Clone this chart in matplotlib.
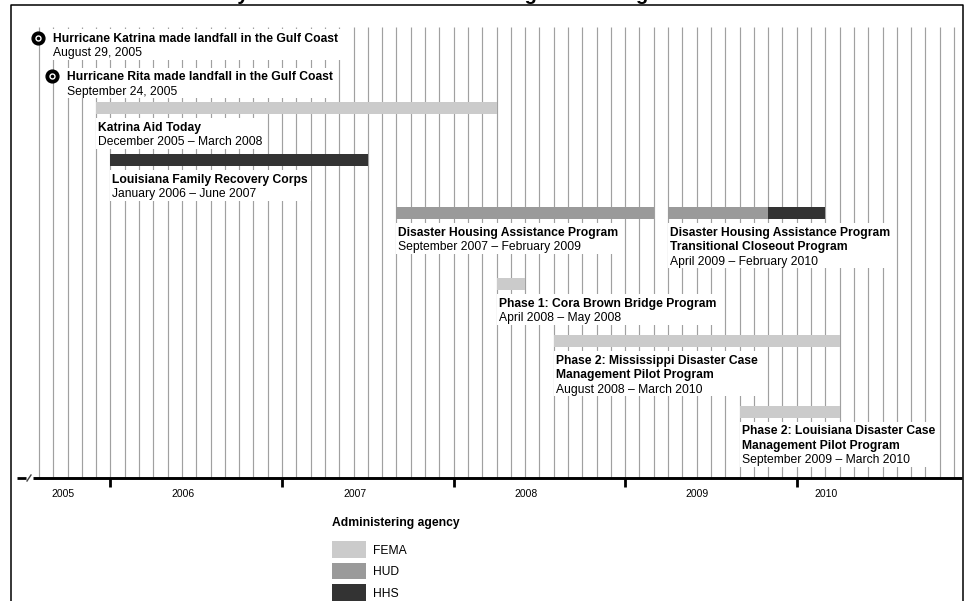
import matplotlib
matplotlib.use('Agg')
import matplotlib.pyplot as plt
from matplotlib.patches import Rectangle

plt.rcParams['font.family'] = ['Liberation Sans', 'DejaVu Sans']

# ---- data ----
title = 'Timeline of Federally Funded Disaster Case Management Programs'

event_names = ['Hurricane Katrina made landfall in the Gulf Coast',
               'Hurricane Rita made landfall in the Gulf Coast']
event_dates = ['August 29, 2005', 'September 24, 2005']
event_month = ['2005-08', '2005-09']

prog_names = [
    'Katrina Aid Today',
    'Louisiana Family Recovery Corps',
    'Disaster Housing Assistance Program',
    'Disaster Housing Assistance Program\nTransitional Closeout Program',
    'Phase 1: Cora Brown Bridge Program',
    'Phase 2: Mississippi Disaster Case\nManagement Pilot Program',
    'Phase 2: Louisiana Disaster Case\nManagement Pilot Program',
]
prog_start = ['2005-12', '2006-01', '2007-09', '2009-04', '2008-04', '2008-08', '2009-09']
prog_end = ['2008-03', '2007-06', '2009-02', '2010-02', '2008-05', '2010-03', '2010-03']

# bar pieces (a program can change agency part way)
seg_prog = [0, 1, 2, 3, 3, 4, 5, 6]
seg_start = ['2005-12', '2006-01', '2007-09', '2009-04', '2009-11', '2008-04', '2008-08', '2009-09']
seg_end = ['2008-03', '2007-06', '2009-02', '2009-10', '2010-02', '2008-05', '2010-03', '2010-03']
seg_agency = ['FEMA', 'HHS', 'HUD', 'HUD', 'HHS', 'FEMA', 'FEMA', 'FEMA']

agencies = ['FEMA', 'HUD', 'HHS']
years = [2005, 2006, 2007, 2008, 2009, 2010]
grid_first, grid_last = '2005-08', '2010-12'

# ---- layout / style ----
agency_colors = {'FEMA': '#cbcbcb', 'HUD': '#9a9a9a', 'HHS': '#333333'}
MONTH_NAMES = ['January', 'February', 'March', 'April', 'May', 'June', 'July',
               'August', 'September', 'October', 'November', 'December']
PX_PER_MONTH = 14.297
ROW_Y = [108, 160, 213, 213, 283.7, 341.2, 411.5]   # bar centres (px from top)
EVENT_Y = [37.5, 76]
BAR_H = 12
LINE_H = 14.4
FS = 8.7
year_label_offset = [8.7, 5.1, 5.1, 5.1, 5.0, 2.05]  # months into the year


def mi(s):
    y, m = map(int, s.split('-'))
    return (y - 2005) * 12 + (m - 1)


def px2m(px):
    return 7 + (px - 39) / PX_PER_MONTH


def month_text(s):
    y, m = map(int, s.split('-'))
    return f'{MONTH_NAMES[m - 1]} {y}'


fig = plt.figure(figsize=(9.71, 6.01), dpi=100)
ax = fig.add_axes([0, 0, 1, 1])
ax.set_xlim(px2m(0), px2m(971))
ax.set_ylim(601, 0)
ax.axis('off')

# title, cut at the top edge as in the scan
ax.text(px2m(48), -0.3, title, fontsize=14.6, fontweight='bold', va='baseline', ha='left')

# frame
ax.plot([px2m(11), px2m(11), px2m(963.5), px2m(963.5)], [605, 5, 5, 605],
        color='black', lw=1.1, zorder=6)

# monthly grid
ax.vlines(range(mi(grid_first), mi(grid_last) + 1), 27, 477,
          color='#a0a0a0', lw=0.85, zorder=1)

# bars
for p, s, e, a in zip(seg_prog, seg_start, seg_end, seg_agency):
    ax.barh(ROW_Y[p], mi(e) + 1 - mi(s), left=mi(s), height=BAR_H,
            color=agency_colors[a], zorder=3)

groups = []  # (texts, box_left, top, bottom)


def add_label(x_text, y_first, bold_lines, date_line, box_left):
    texts = []
    y = y_first
    for line in bold_lines:
        texts.append(ax.text(x_text, y + 4.3, line, fontsize=FS, fontweight='bold',
                             va='baseline', ha='left', zorder=5))
        y += LINE_H
    texts.append(ax.text(x_text, y + 4.3, date_line, fontsize=FS,
                         va='baseline', ha='left', zorder=5))
    groups.append((texts, box_left, y_first - 8.5, y + 8))


# event markers
for name, date, m, y in zip(event_names, event_dates, event_month, EVENT_Y):
    x = mi(m) - 0.1
    ax.plot(x, y, 'o', ms=9.2, color='black', zorder=5)
    ax.plot(x, y, 'o', ms=3.6, mfc='black', mec='white', mew=1.0, zorder=6)
    add_label(x + 15 / PX_PER_MONTH, y, [name], date, x + 11 / PX_PER_MONTH)

# program labels
for p, name in enumerate(prog_names):
    x0 = mi(prog_start[p])
    date = f'{month_text(prog_start[p])} \u2013 {month_text(prog_end[p])}'
    add_label(x0 + 2 / PX_PER_MONTH, ROW_Y[p] + 18.5, name.split('\n'), date, x0)

fig.canvas.draw()
renderer = fig.canvas.get_renderer()
inv = ax.transData.inverted()
for texts, left, top, bottom in groups:
    right = max(inv.transform(t.get_window_extent(renderer))[1][0] for t in texts)
    right += 3 / PX_PER_MONTH
    ax.add_patch(Rectangle((left, top), right - left, bottom - top,
                           facecolor='white', edgecolor='none', zorder=2))

# time axis with break
ax.plot([px2m(16.5), px2m(26)], [478, 478], color='black', lw=2, solid_capstyle='butt', zorder=4)
ax.plot([px2m(33), px2m(962)], [478, 478], color='black', lw=2.1, solid_capstyle='butt', zorder=4)
ax.plot([px2m(27), px2m(31)], [481, 475], color='#444444', lw=1, zorder=4)
ax.vlines([mi(f'{y}-01') for y in years[1:]], 478, 486.5, color='black', lw=2, zorder=4)
for y, off in zip(years, year_label_offset):
    ax.text(mi(f'{y}-01') + off, 494, str(y), fontsize=7.5, ha='center', va='center')

# legend
ax.text(px2m(331.5), 521.5 + 4.3, 'Administering agency', fontsize=FS,
        fontweight='bold', va='baseline', ha='left')
for i, a in enumerate(agencies):
    top = 541 + i * 21.5
    ax.add_patch(Rectangle((px2m(331.5), top), 34 / PX_PER_MONTH, 16.5,
                           facecolor=agency_colors[a], edgecolor='none'))
    ax.text(px2m(373), top + 8.25 + 4.3, a, fontsize=FS, va='baseline', ha='left')

fig.savefig('out.png', dpi=100, facecolor='white')
